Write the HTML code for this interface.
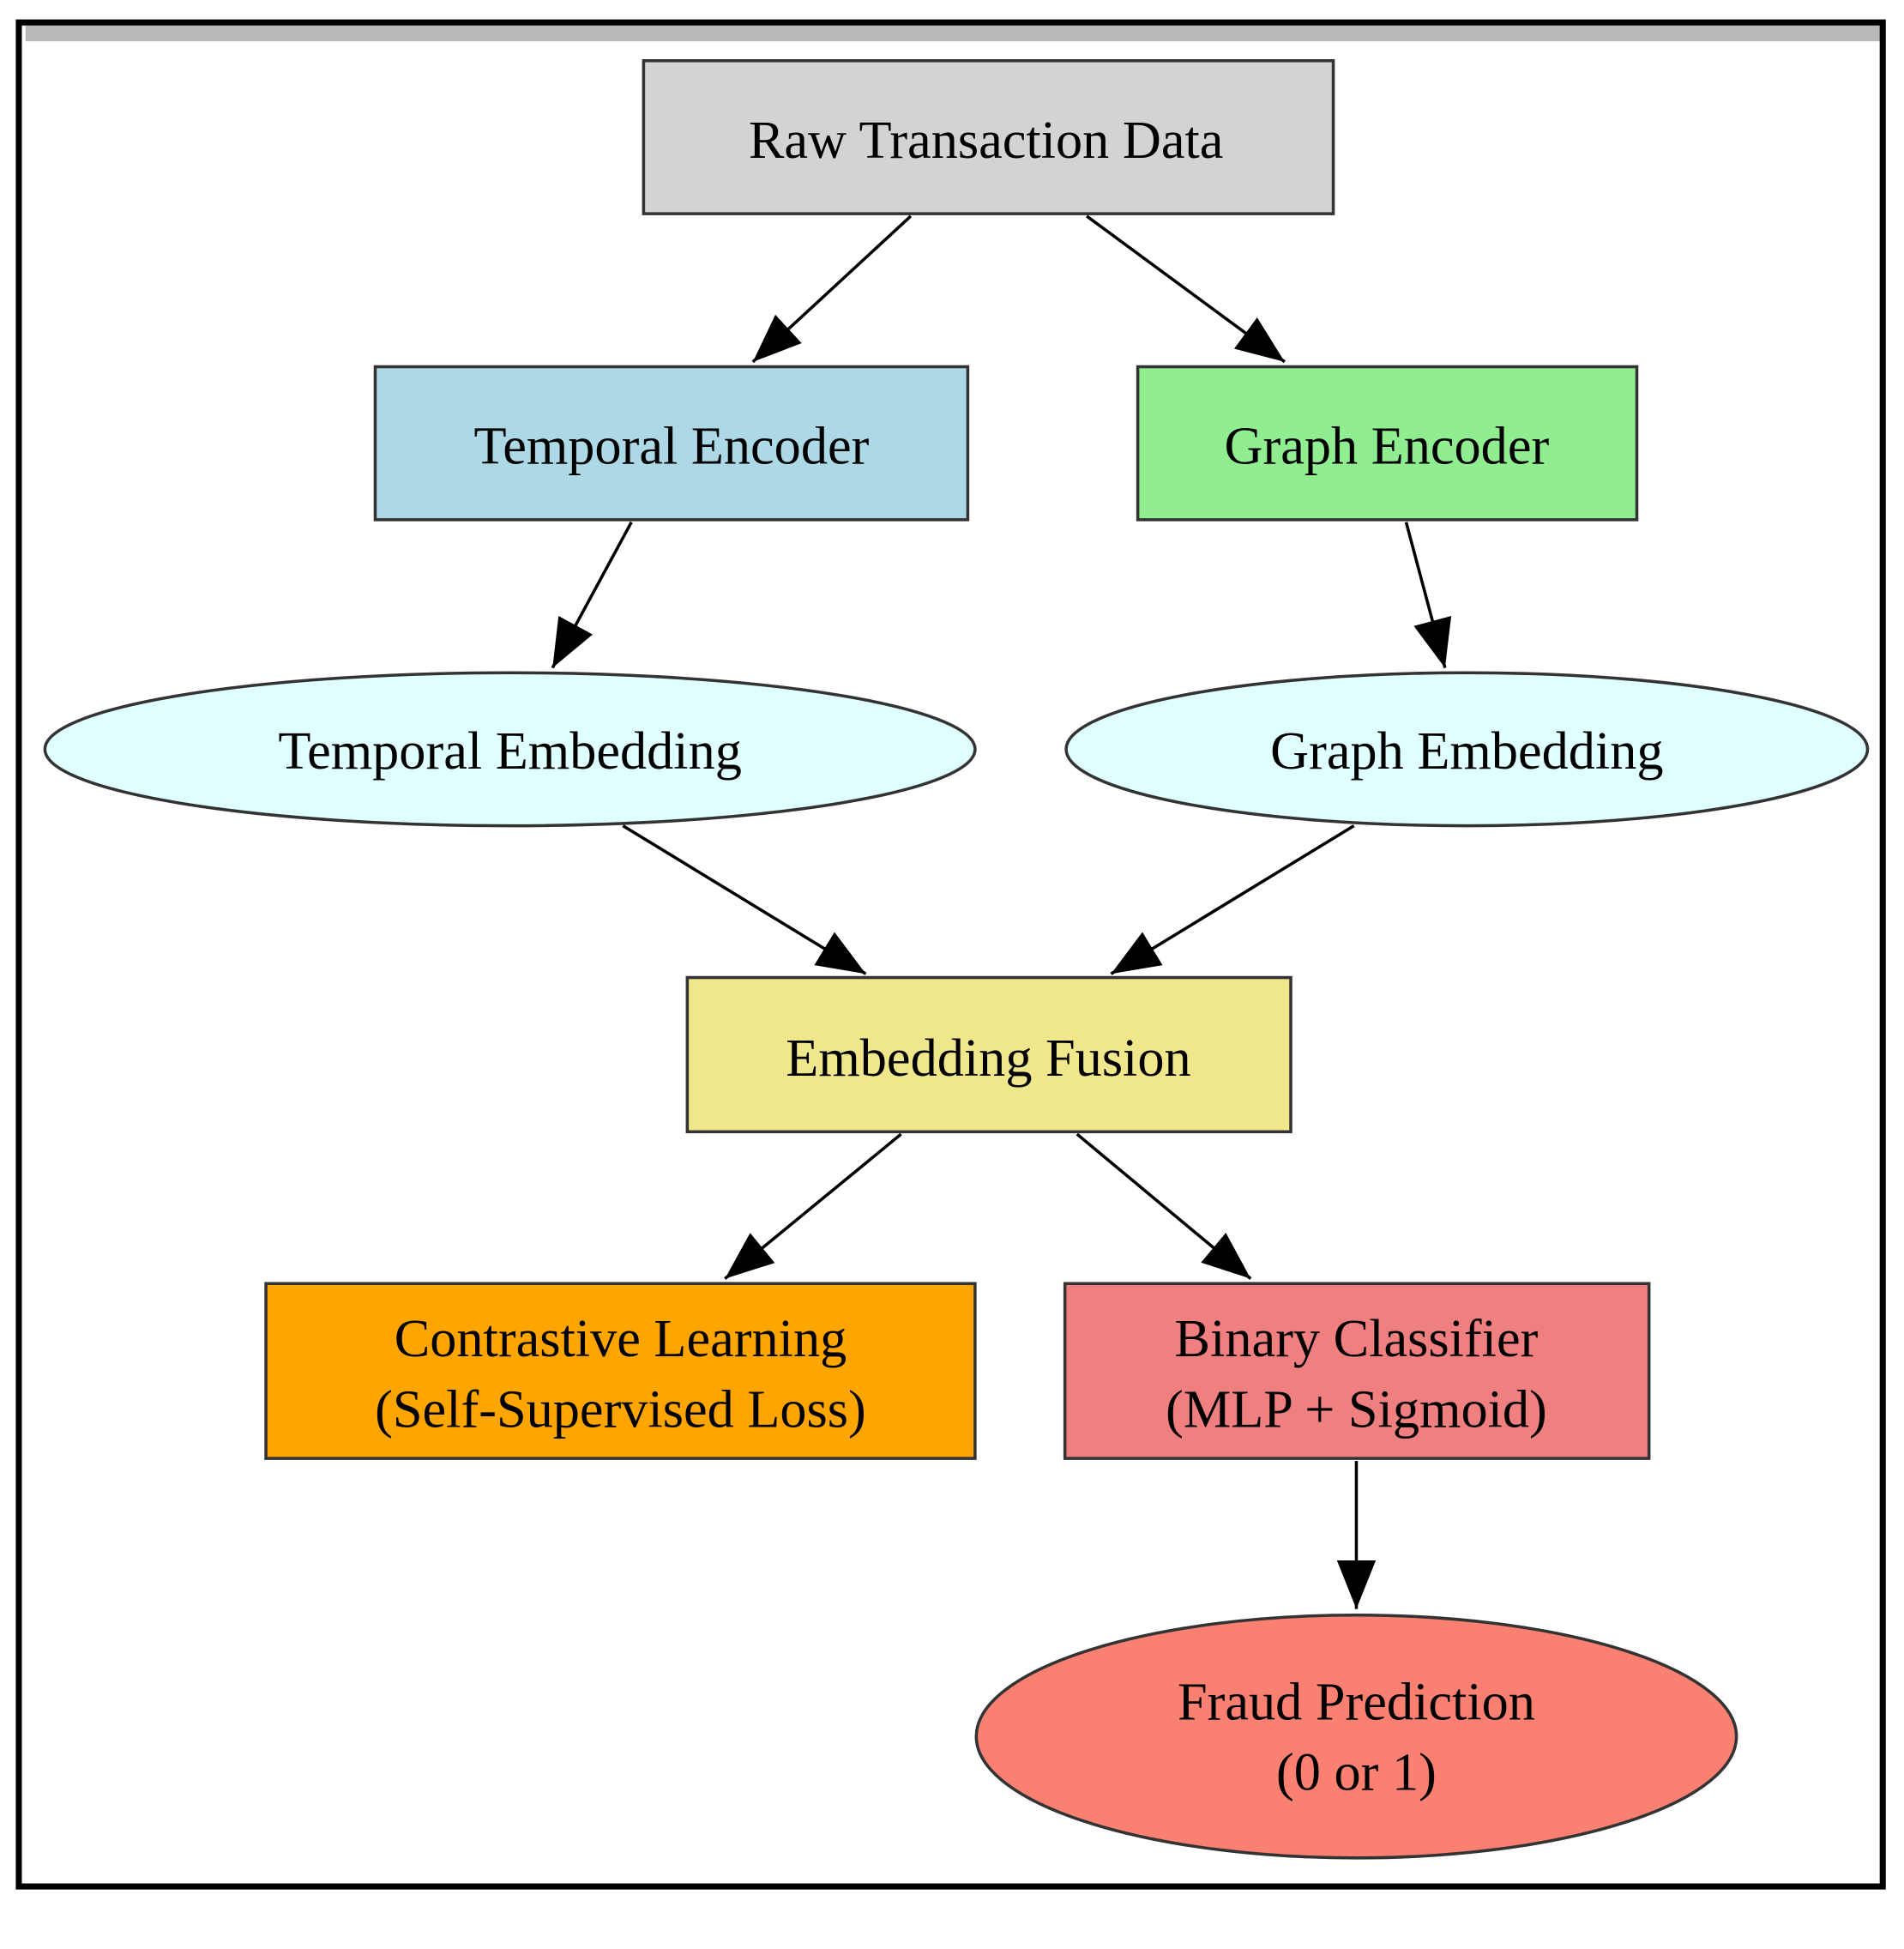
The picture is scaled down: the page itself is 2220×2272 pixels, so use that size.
<!DOCTYPE html>
<html><head><meta charset="utf-8"><style>html,body{margin:0;padding:0;background:#fff}svg{display:block}</style></head>
<body>
<svg width="2220" height="2272" viewBox="0 0 1568 1605" preserveAspectRatio="none" xmlns="http://www.w3.org/2000/svg" font-family="'Liberation Serif', serif" font-size="44" text-anchor="middle">
<defs><marker id="a" markerWidth="10" markerHeight="8" refX="9" refY="4" orient="auto" markerUnits="userSpaceOnUse" viewBox="0 0 10 8"><path d="M0,0 L10,4 L0,8 z" fill="#000"/></marker>
<marker id="b" viewBox="0 0 10 8" refX="10" refY="4" markerWidth="40" markerHeight="32" orient="auto" markerUnits="userSpaceOnUse"><path d="M0,0 L10,4 L0,8 z" fill="#000"/></marker></defs>
<rect x="0" y="0" width="1568" height="1605" fill="#fff"/>
<rect x="21" y="21" width="1530" height="13" fill="#b8b9b8"/>
<rect x="15.5" y="18.5" width="1535" height="1535" fill="none" stroke="#000" stroke-width="5"/>
<g stroke="#333" stroke-width="2.5">
<rect x="530" y="50" width="568" height="126" fill="#d3d3d3"/>
<rect x="309" y="302" width="488" height="126" fill="#add8e6"/>
<rect x="937" y="302" width="411" height="126" fill="#90ee90"/>
<ellipse cx="420" cy="617" rx="383" ry="63" fill="#e0ffff"/>
<ellipse cx="1208" cy="617" rx="330" ry="63" fill="#e0ffff"/>
<rect x="566" y="805" width="497" height="127" fill="#f0e68c"/>
<rect x="219" y="1057" width="584" height="144" fill="#ffa500"/>
<rect x="877" y="1057" width="481" height="144" fill="#f08080"/>
<ellipse cx="1117" cy="1430" rx="313" ry="100" fill="#fa8072"/>
</g>
<g stroke="#000" stroke-width="2.5" marker-end="url(#b)">
<line x1="750" y1="178" x2="620" y2="298"/>
<line x1="895" y1="178" x2="1058" y2="298"/>
<line x1="520" y1="430" x2="455" y2="550"/>
<line x1="1158" y1="430" x2="1190" y2="550"/>
<line x1="513" y1="680" x2="713" y2="802"/>
<line x1="1115" y1="680" x2="915" y2="802"/>
<line x1="742" y1="934" x2="597" y2="1053"/>
<line x1="887" y1="934" x2="1030" y2="1053"/>
<line x1="1117" y1="1203" x2="1117" y2="1325"/>
</g>
<g fill="#000">
<text x="812" y="130">Raw Transaction Data</text>
<text x="553" y="382">Temporal Encoder</text>
<text x="1142" y="382">Graph Encoder</text>
<text x="420" y="633">Temporal Embedding</text>
<text x="1208" y="633">Graph Embedding</text>
<text x="814" y="886">Embedding Fusion</text>
<text x="511" y="1117">Contrastive Learning</text>
<text x="511" y="1175">(Self-Supervised Loss)</text>
<text x="1117" y="1117">Binary Classifier</text>
<text x="1117" y="1175">(MLP + Sigmoid)</text>
<text x="1117" y="1416">Fraud Prediction</text>
<text x="1117" y="1474">(0 or 1)</text>
</g>
</svg>
</body></html>
